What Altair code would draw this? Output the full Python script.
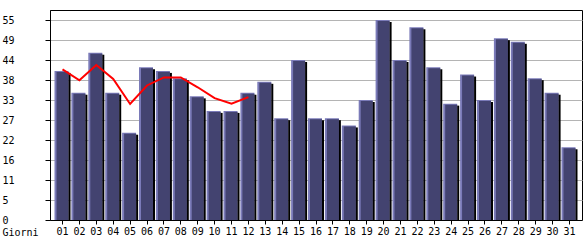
import altair as alt
import pandas as pd

days = [f"{i:02d}" for i in range(1, 32)]
visits = [41, 35, 46, 35, 24, 42, 41, 39, 34, 30, 30, 35, 38, 28, 44, 28, 28, 26, 33, 55,
          44, 53, 42, 32, 40, 33, 50, 49, 39, 35, 20]
trend_days = days[:12]
trend = [41.4, 38.4, 42.6, 38.8, 31.9, 37.0, 39.2, 39.2, 36.5, 33.5, 32.0, 33.8]
y_ticks = [0, 5.5, 11, 16.5, 22, 27.5, 33, 38.5, 44, 49.5, 55]

bars = pd.DataFrame({"day": days, "v": visits})
line = pd.DataFrame({"day": trend_days, "v": trend})

FONT = "DejaVu Sans Mono"
W, H = 532, 210

xscale = alt.Scale(domain=days, paddingInner=0, paddingOuter=0.24)
yscale = alt.Scale(domain=[0, 57.75], nice=False, zero=True)

x_axis = alt.Axis(title="Giorni", titleX=-48, titleY=12, titleAlign="left", titleBaseline="middle",
                  titleFont=FONT, titleFontSize=10, titleFontWeight="normal", titleColor="black",
                  labelAngle=0, labelFont=FONT, labelFontSize=10, labelColor="black",
                  labelPadding=2, tickSize=4, tickColor="black", domainColor="black",
                  grid=False, labelOverlap=False)
y_axis = alt.Axis(title=None, values=y_ticks, tickCount=20, labelExpr="floor(datum.value)",
                  labelAlign="left", labelPadding=43, labelBaseline="middle",
                  labelFont=FONT, labelFontSize=10, labelColor="black",
                  labelOverlap=False, labelFlush=False,
                  tickSize=5, tickColor="black", domainColor="black",
                  grid=True, gridColor="#b4b4b4", gridWidth=1)

base = alt.Chart(bars)

light = base.mark_bar(color="#7a7ab8", width=14, xOffset=-1, clip=True).encode(
    x=alt.X("day:N", scale=xscale, axis=x_axis, sort=days),
    y=alt.Y("v:Q", scale=yscale, axis=y_axis),
)
body = base.mark_bar(color="#434370", width=12, xOffset=0, yOffset=1, clip=True).encode(
    x=alt.X("day:N", scale=xscale, sort=days),
    y=alt.Y("v:Q", scale=yscale),
)
shadow = base.mark_bar(color="black", width=2, xOffset=7, yOffset=2, clip=True).encode(
    x=alt.X("day:N", scale=xscale, sort=days),
    y=alt.Y("v:Q", scale=yscale),
)
trend_line = alt.Chart(line).mark_line(color="#ff0000", strokeWidth=2).encode(
    x=alt.X("day:N", scale=xscale, sort=days),
    y=alt.Y("v:Q", scale=yscale),
)

chart = alt.layer(light, body, shadow, trend_line).properties(
    width=W, height=H,
    autosize=alt.AutoSizeParams(type="none"),
    padding={"left": 50, "top": 10, "right": 3, "bottom": 20},
    background="white",
).configure_view(stroke="black", strokeWidth=1)

chart.save("out.html", embed_options={"renderer": "svg", "actions": False})
